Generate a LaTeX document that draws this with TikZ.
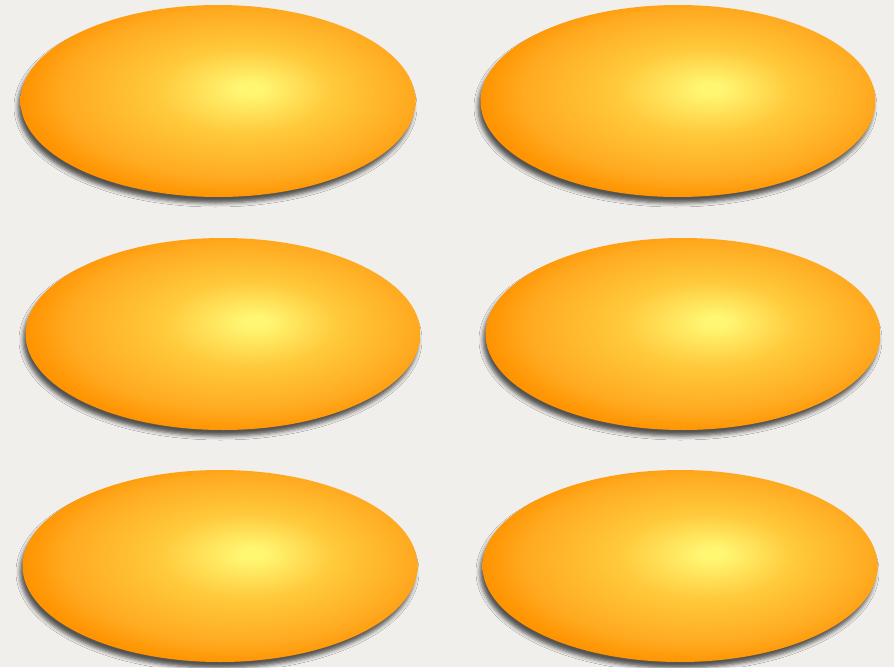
\documentclass[tikz,border=0pt]{standalone}
\usetikzlibrary{shapes.geometric,shadows.blur}

\definecolor{paper}{RGB}{240,239,236}
\definecolor{eggcore}{RGB}{255,246,114}
\definecolor{eggmid}{RGB}{255,202,60}
\definecolor{egglite}{RGB}{255,170,32}
\definecolor{eggrim}{RGB}{255,147,0}
% path box maps to the middle 50bp of the shading
\pgfdeclareradialshading{eggglow}{\pgfpoint{4.3bp}{3.3bp}}{color(0bp)=(eggcore); color(1.5bp)=(eggcore); color(11bp)=(eggmid); color(22bp)=(egglite); color(27bp)=(eggrim); color(50bp)=(eggrim)}

\begin{document}
\begin{tikzpicture}[x=1pt, y=-1pt,
	   egg/.style={ellipse, minimum width=395pt, minimum height=192pt, inner sep=0pt,
	     shade, shading=eggglow,
	     blur shadow={shadow xshift=-2.5pt, shadow yshift=-6pt, shadow opacity=65, shadow blur radius=4pt}}]
	  \fill[paper] (0,0) rectangle (894,667);
	  \useasboundingbox (0,0) rectangle (894,667);
	  % top row
	  \node[egg] (e11) at (218,101) {};
	  \node[egg] (e12) at (678,101) {};
	  % middle row
	  \node[egg] (e21) at (223,334) {};
	  \node[egg] (e22) at (683,334) {};
	  % bottom row
	  \node[egg] (e31) at (220,566) {};
	  \node[egg] (e32) at (680,566) {};
	\end{tikzpicture}
\end{document}
